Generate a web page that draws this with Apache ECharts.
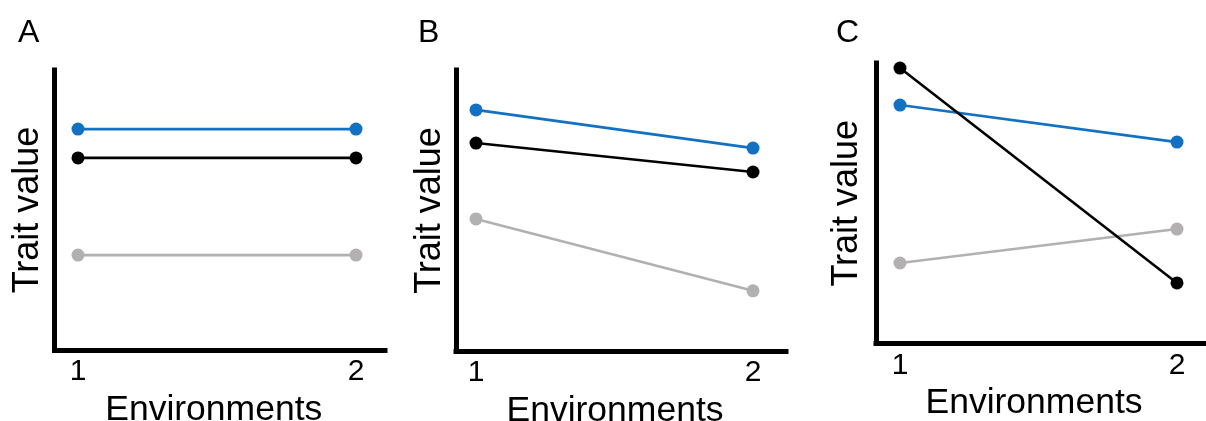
<!DOCTYPE html>
<html>
<head>
<meta charset="utf-8">
<script src="https://cdn.jsdelivr.net/npm/echarts@6/dist/echarts.min.js"></script>
<style>
  html, body { margin: 0; padding: 0; background: #ffffff; }
  #chart { width: 1206px; height: 421px; }
</style>
</head>
<body>
<div id="chart"></div>
<script>
// ---- data ----
const environments = [1, 2];
const tickLabels = ['1', '2'];
const panelLetters = ['A', 'B', 'C'];
const xTitle = 'Environments';
const yTitle = 'Trait value';

// Panel A: no plasticity (parallel flat lines)
const aBlue  = [78.9, 78.9];
const aBlack = [68.6, 68.6];
const aGray  = [33.9, 33.9];
// Panel B: plasticity, no GxE crossing
const bBlue  = [85.8, 72.2];
const bBlack = [74.0, 63.7];
const bGray  = [47.0, 21.4];
// Panel C: GxE with crossing reaction norms
const cBlue  = [85.0, 71.8];
const cBlack = [98.2, 21.6];
const cGray  = [28.7, 40.8];

// ---- styling ----
const FONT = '"Liberation Sans", Arial, Helvetica, sans-serif';
const COL_BLUE = '#1371c3';
const COL_BLACK = '#000000';
const COL_GRAY = '#b2b0b0';

const panels = [
  { left: 54.5, top: 70, right: 385, bottom: 350, xmin: 0.9155, xmax: 2.1043, yGap: 8, xGap: 41,
    series: [aGray, aBlue, aBlack] },
  { left: 456, top: 70, right: 786, bottom: 351, xmin: 0.9278, xmax: 2.119, yGap: 8, xGap: 40,
    series: [bGray, bBlue, bBlack] },
  { left: 876, top: 63, right: 1204, bottom: 343.5, xmin: 0.9134, xmax: 2.0975, yGap: 11, xGap: 40,
    series: [cGray, cBlue, cBlack] }
];
const colors = [COL_GRAY, COL_BLUE, COL_BLACK];

const grid = [], xAxis = [], yAxis = [], series = [], graphic = [];
const letterX = [18, 418, 836];

panels.forEach((p, i) => {
  grid.push({ left: p.left, top: p.top, width: p.right - p.left, height: p.bottom - p.top,
              containLabel: false, outerBoundsMode: 'none' });
  xAxis.push({
    type: 'value', gridIndex: i, min: p.xmin, max: p.xmax,
    axisLine: { show: true, onZero: false, lineStyle: { color: '#000', width: 5, cap: 'square' } },
    axisTick: { show: false },
    splitLine: { show: false },
    axisLabel: {
      customValues: environments,
      formatter: v => tickLabels[environments.indexOf(v)] ?? '',
      color: '#000', fontSize: 30, fontFamily: FONT, margin: 7
    },
    name: xTitle, nameLocation: 'middle', nameGap: p.xGap,
    nameTextStyle: { color: '#000', fontSize: 35.5, fontFamily: FONT, padding: [0, 12, 0, 0] }
  });
  yAxis.push({
    type: 'value', gridIndex: i, min: 0, max: 100,
    axisLine: { show: true, onZero: false, lineStyle: { color: '#000', width: 5, cap: 'square' } },
    axisTick: { show: false },
    splitLine: { show: false },
    axisLabel: { show: false },
    name: yTitle, nameLocation: 'middle', nameGap: p.yGap, nameRotate: 90,
    nameTextStyle: { color: '#000', fontSize: 36, fontFamily: FONT }
  });
  p.series.forEach((vals, k) => {
    series.push({
      type: 'line', xAxisIndex: i, yAxisIndex: i,
      data: environments.map((e, j) => [e, vals[j]]),
      symbol: 'circle', symbolSize: 13,
      lineStyle: { color: colors[k], width: 2.6 },
      itemStyle: { color: colors[k] },
      silent: true, z: 2 + k
    });
  });
  graphic.push({
    type: 'text', left: letterX[i], top: 17,
    style: { text: panelLetters[i], fontSize: 32, fontFamily: FONT, fill: '#000' }
  });
});

const chart = echarts.init(document.getElementById('chart'), null, { renderer: 'canvas' });
chart.setOption({
  animation: false,
  backgroundColor: '#ffffff',
  grid, xAxis, yAxis, series, graphic
});
</script>
</body>
</html>
